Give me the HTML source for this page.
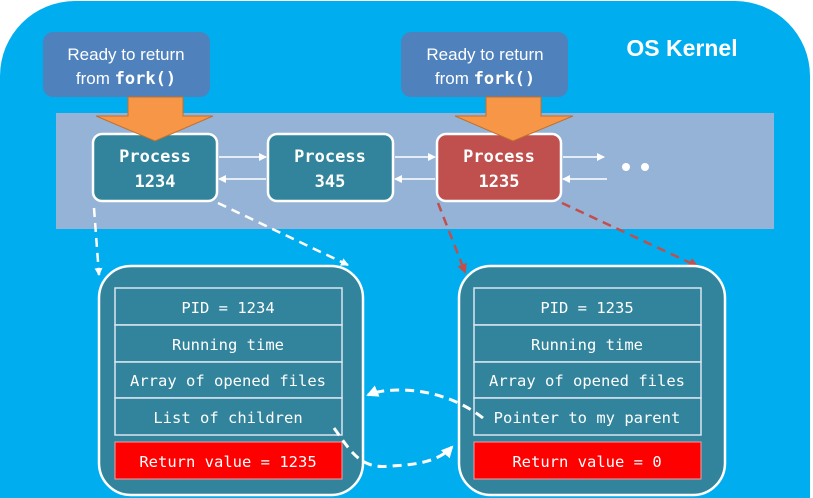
<!DOCTYPE html>
<html><head><style>html,body{margin:0;padding:0;background:#fff;overflow:hidden;width:813px;height:498px}svg{display:block}</style></head><body>
<svg width="813" height="498" viewBox="0 0 813 498" xmlns="http://www.w3.org/2000/svg">
<defs>
<marker id="wa" markerWidth="8" markerHeight="8" refX="7" refY="4" orient="auto" markerUnits="userSpaceOnUse"><path d="M0,0 L8,4 L0,8 z" fill="#fff"/></marker>
<marker id="ra" markerWidth="10" markerHeight="10" refX="8" refY="5" orient="auto" markerUnits="userSpaceOnUse"><path d="M0,0 L10,5 L0,10 z" fill="#c0504d"/></marker>
<marker id="wb" markerWidth="12" markerHeight="12" refX="10" refY="6" orient="auto" markerUnits="userSpaceOnUse"><path d="M0,0 L12,6 L0,12 z" fill="#fff"/></marker>
</defs>
<path d="M0,76 A75,75 0 0 1 75,1 H735 A75,75 0 0 1 810,76 V498 H0 Z" fill="#00aeef"/>
<text x="682" y="56" font-family="Liberation Sans, sans-serif" font-weight="bold" font-size="23" fill="#fff" text-anchor="middle">OS Kernel</text>
<rect x="56" y="113" width="718" height="116" fill="#95b3d7"/>
<rect x="43" y="32" width="167" height="65" rx="10" fill="#4f81bd"/>
<text x="126" y="60" font-family="Liberation Sans, sans-serif" font-size="17" fill="#fff" text-anchor="middle">Ready to return</text>
<text x="126" y="84" font-family="Liberation Sans, sans-serif" font-size="17" fill="#fff" text-anchor="middle">from <tspan font-family="DejaVu Sans Mono, monospace" font-weight="bold">fork()</tspan></text>
<rect x="401" y="32" width="167" height="65" rx="10" fill="#4f81bd"/>
<text x="485" y="60" font-family="Liberation Sans, sans-serif" font-size="17" fill="#fff" text-anchor="middle">Ready to return</text>
<text x="485" y="84" font-family="Liberation Sans, sans-serif" font-size="17" fill="#fff" text-anchor="middle">from <tspan font-family="DejaVu Sans Mono, monospace" font-weight="bold">fork()</tspan></text>
<g font-family="DejaVu Sans Mono, monospace" font-weight="bold" font-size="17" fill="#fff" text-anchor="middle">
<rect x="93" y="134" width="124" height="67" rx="9" fill="#31849b" stroke="#fff" stroke-width="2.5"/>
<text x="155" y="162">Process</text><text x="155" y="187">1234</text>
<rect x="268" y="134" width="125" height="67" rx="9" fill="#31849b" stroke="#fff" stroke-width="2.5"/>
<text x="330" y="162">Process</text><text x="330" y="187">345</text>
<rect x="437" y="134" width="124" height="67" rx="9" fill="#c0504d" stroke="#fff" stroke-width="2.5"/>
<text x="499" y="162">Process</text><text x="499" y="187">1235</text>
</g>
<path d="M128,97 H183 V116 H213 L155,141 L96,116 H128 Z" fill="#f79646" stroke="#c0702f" stroke-width="1"/>
<path d="M486,97 H541 V116 H573 L513,141 L455,116 H486 Z" fill="#f79646" stroke="#c0702f" stroke-width="1"/>
<g stroke="#fff" stroke-width="1.5">
<line x1="219" y1="157" x2="266" y2="157" marker-end="url(#wa)"/>
<line x1="266" y1="179" x2="219" y2="179" marker-end="url(#wa)"/>
<line x1="395" y1="157" x2="435" y2="157" marker-end="url(#wa)"/>
<line x1="435" y1="179" x2="395" y2="179" marker-end="url(#wa)"/>
<line x1="563" y1="157" x2="604" y2="157" marker-end="url(#wa)"/>
<line x1="607" y1="179" x2="563" y2="179" marker-end="url(#wa)"/>
</g>
<circle cx="626" cy="167" r="4" fill="#fff"/><circle cx="645" cy="167" r="4" fill="#fff"/>
<g fill="none" stroke-dasharray="9,6" stroke-width="2.5">
<line x1="94" y1="208" x2="99" y2="275" stroke="#fff" marker-end="url(#wa)"/>
<line x1="218" y1="203" x2="348" y2="265" stroke="#fff" marker-end="url(#wa)"/>
<line x1="438" y1="203" x2="465" y2="272" stroke="#c0504d" marker-end="url(#ra)"/>
<line x1="562" y1="203" x2="697" y2="266" stroke="#c0504d" marker-end="url(#ra)"/>
</g>
<rect x="99" y="266" width="264" height="229" rx="32" fill="#31849b" stroke="#fff" stroke-width="2.5"/>
<rect x="459" y="266" width="266" height="229" rx="32" fill="#31849b" stroke="#fff" stroke-width="2.5"/>
<g stroke="#dbe5f1" stroke-width="1.5" fill="#31849b">
<rect x="115" y="288" width="227" height="37"/><rect x="115" y="325" width="227" height="37"/><rect x="115" y="362" width="227" height="36"/><rect x="115" y="398" width="227" height="37"/>
<rect x="474" y="288" width="227" height="37"/><rect x="474" y="325" width="227" height="37"/><rect x="474" y="362" width="227" height="36"/><rect x="474" y="398" width="227" height="37"/>
</g>
<rect x="115" y="442" width="227" height="37" fill="#ff0000" stroke="#f2a0a0" stroke-width="1"/>
<rect x="474" y="442" width="227" height="37" fill="#ff0000" stroke="#f2a0a0" stroke-width="1"/>
<g font-family="DejaVu Sans Mono, monospace" font-size="15.5" fill="#fff" text-anchor="middle">
<text x="228" y="313">PID = 1234</text><text x="228" y="350">Running time</text><text x="228" y="386">Array of opened files</text><text x="228" y="423">List of children</text><text x="228" y="467">Return value = 1235</text>
<text x="587" y="313">PID = 1235</text><text x="587" y="350">Running time</text><text x="587" y="386">Array of opened files</text><text x="587" y="423">Pointer to my parent</text><text x="587" y="467">Return value = 0</text>
</g>
<g fill="none" stroke="#fff" stroke-width="3" stroke-dasharray="9,6">
<path d="M334,428 C350,450 360,470 390,466 C420,465 440,460 452,447" marker-end="url(#wb)"/>
<path d="M483,418 C460,400 430,390 400,390 C385,390 375,392 368,395" marker-end="url(#wb)"/>
</g>
</svg>
</body></html>
